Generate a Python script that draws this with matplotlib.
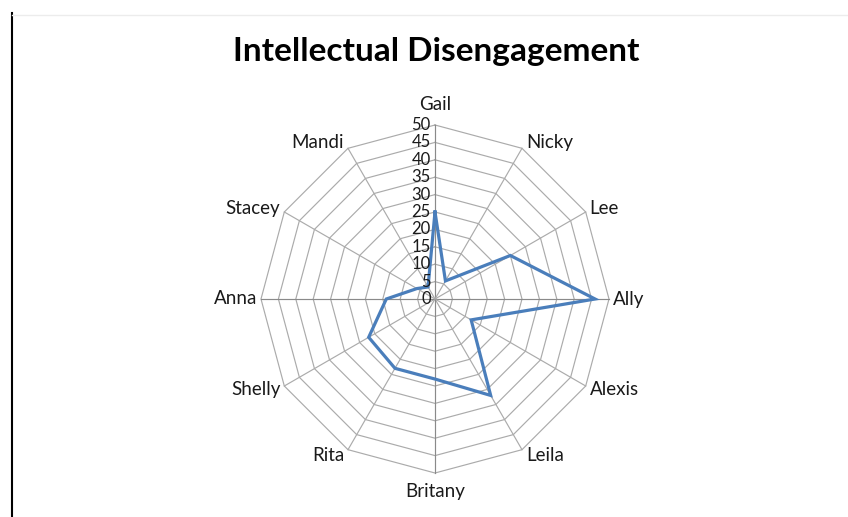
import numpy as np
import matplotlib
matplotlib.use("Agg")
import matplotlib.pyplot as plt
from matplotlib.lines import Line2D

categories = ["Gail", "Nicky", "Lee", "Ally", "Alexis", "Leila", "Britany",
              "Rita", "Shelly", "Anna", "Stacey", "Mandi"]
values = [25, 6, 25, 46, 12, 32, 23, 23, 22, 14, 6, 4]
r_ticks = [0, 5, 10, 15, 20, 25, 30, 35, 40, 45, 50]
title = "Intellectual Disengagement"

W, H = 848, 517
fig = plt.figure(figsize=(W / 100, H / 100), dpi=100)
fig.patch.set_facecolor("white")

# slide frame lines
fig.add_artist(Line2D([11.5 / W, 11.5 / W], [0, 1 - 13 / H], transform=fig.transFigure,
                      color="black", lw=1.5))
fig.add_artist(Line2D([12 / W, 1], [1 - 15 / H, 1 - 15 / H], transform=fig.transFigure,
                      color="#ececec", lw=1.0))

cx, cy, R = 435, 299, 174
ax = fig.add_axes([(cx - R) / W, (H - cy - R) / H, 2 * R / W, 2 * R / H], projection="polar")
ax.set_theta_zero_location("N")
ax.set_theta_direction(-1)
ax.set_ylim(0, r_ticks[-1])
ax.axis("off")

n = len(categories)
theta = np.arange(n) * 2 * np.pi / n
theta_c = np.append(theta, theta[0])

# polygon rings
for rv in r_ticks[1:]:
    ax.plot(theta_c, [rv] * (n + 1), color="#ababab", lw=0.85, clip_on=False, zorder=1)
# spokes
for i, t in enumerate(theta):
    col = "#8a8a8a" if i % 3 == 0 else "#ababab"
    ax.plot([t, t], [0, r_ticks[-1]], color=col, lw=0.85, clip_on=False, zorder=1)

# data
ax.plot(theta_c, values + [values[0]], color="#4a7ebb", lw=2.3, clip_on=False, zorder=3,
        solid_joinstyle="miter")

# radial tick labels
for rv in r_ticks:
    ax.annotate(str(rv), xy=(0, rv), xytext=(-3, 0), textcoords="offset points",
                ha="right", va="center", fontsize=12, family="Lato", color="#1a1a1a",
                annotation_clip=False)

# category labels, anchored at polygon vertices
px2pt = 0.72
for t, lab in zip(theta, categories):
    s, c = np.sin(t), np.cos(t)
    if abs(s) < 1e-6:
        ha = "center"
        dx = 0
        dy = 21 if c > 0 else -19
    else:
        ha = "left" if s > 0 else "right"
        dx = 4 if s > 0 else -4
        dy = 6.5 * c
    ax.annotate(lab, xy=(t, r_ticks[-1]), xytext=(dx * px2pt, dy * px2pt),
                textcoords="offset points", ha=ha, va="center", fontsize=13.5,
                family="Lato", color="#1a1a1a", annotation_clip=False)

fig.text(436 / W, 1 - 52 / H, title, ha="center", va="center", fontsize=24,
         family="Lato", fontweight="bold", color="black")

fig.savefig("out.png", dpi=100)
